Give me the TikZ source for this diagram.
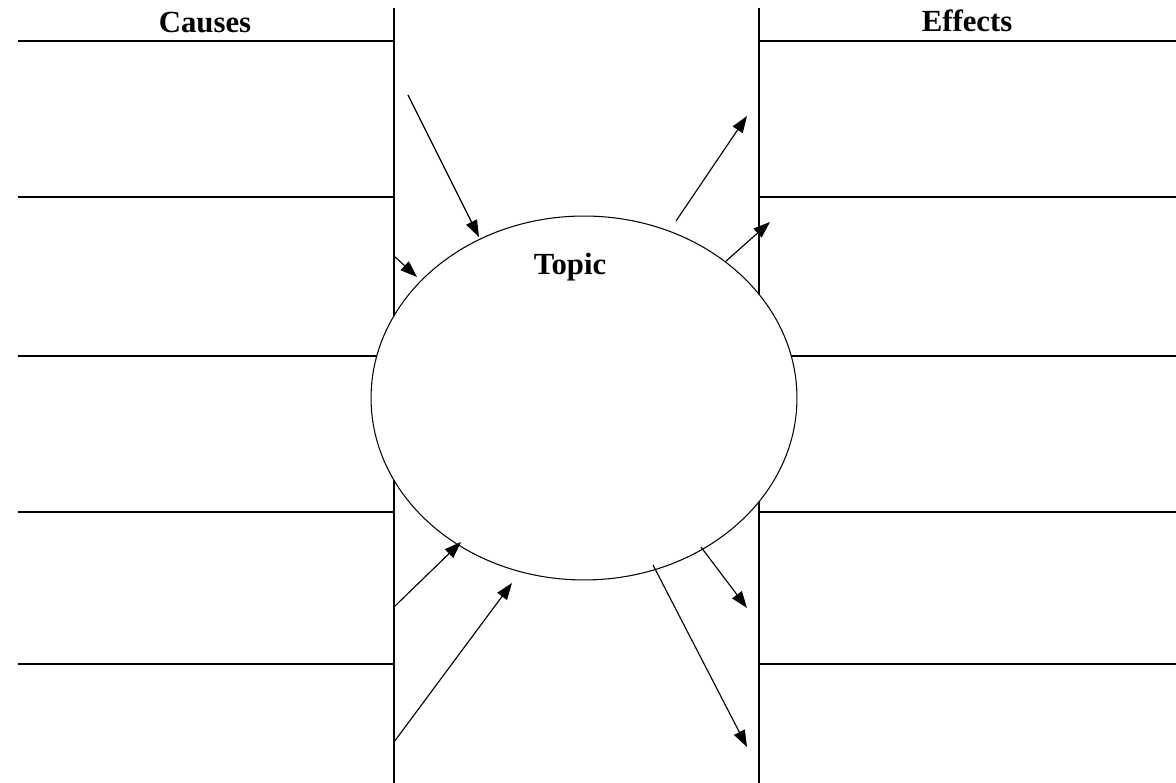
\documentclass[tikz,border=0pt]{standalone}
\usepackage{fontspec}
\setmainfont{Liberation Serif}
\usetikzlibrary{arrows.meta,shapes.geometric}
\begin{document}
\begin{tikzpicture}[
    x=0.02cm, y=0.02cm,
    rule/.style={line width=0.8pt},
    pointer/.style={-{Triangle[length=9.5pt,width=6.8pt]}, line width=0.65pt},
    lbl/.style={font=\fontsize{17.5}{20}\selectfont\bfseries, anchor=base},
]
  \useasboundingbox (0,0) rectangle (1176,-783);

  % the two columns
  \draw[rule] (394,-8) -- (394,-783);
  \draw[rule] (759,-8) -- (759,-783);

  % writing lines
  \foreach \y in {41,197,356,512,664} {
    \draw[rule] (18,-\y) -- (394,-\y);
    \draw[rule] (759,-\y) -- (1176,-\y);
  }

  % topic circle
  \node[ellipse, draw, fill=white, line width=0.6pt, inner sep=0pt,
        minimum width=8.52cm, minimum height=7.28cm] (topic) at (584,-398) {};

  \node[lbl] (causes) at (205,-33) {Causes};
  \node[lbl] (effects) at (967,-32) {Effects};
  \node[lbl] (title) at (570,-275) {Topic};

  % causes in
  \coordinate (in1) at (408,-95);   \coordinate (to1) at (479,-237);
  \coordinate (in2) at (394,-256);  \coordinate (to2) at (417,-277);
  \coordinate (in3) at (394,-607);  \coordinate (to3) at (461,-542);
  \coordinate (in4) at (394,-742);  \coordinate (to4) at (512,-583);
  \draw[pointer] (in1) -- (to1);
  \draw[pointer] (in2) -- (to2);
  \draw[pointer] (in3) -- (to3);
  \draw[pointer] (in4) -- (to4);

  % effects out
  \coordinate (out1) at (676,-221); \coordinate (at1) at (747,-116);
  \coordinate (out2) at (725,-262); \coordinate (at2) at (770,-222);
  \coordinate (out3) at (701,-547); \coordinate (at3) at (747,-608);
  \coordinate (out4) at (653,-565); \coordinate (at4) at (747,-747);
  \draw[pointer] (out1) -- (at1);
  \draw[pointer] (out2) -- (at2);
  \draw[pointer] (out3) -- (at3);
  \draw[pointer] (out4) -- (at4);

\end{tikzpicture}
\end{document}
